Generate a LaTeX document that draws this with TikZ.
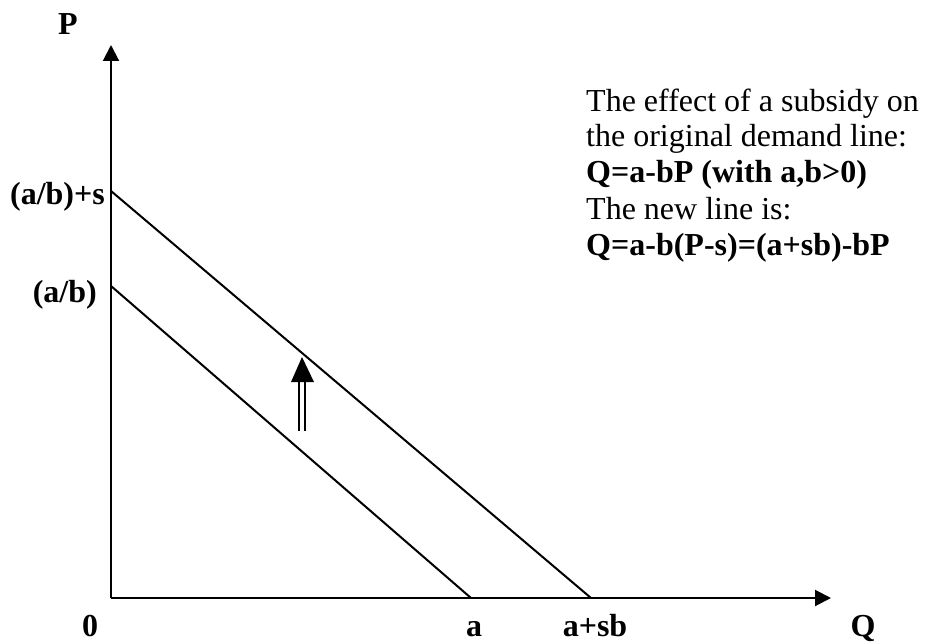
\documentclass[tikz,border=0pt]{standalone}
\usepackage{fontspec}
\setmainfont{Liberation Serif}
\usetikzlibrary{arrows.meta}
\begin{document}
\begin{tikzpicture}[x=1pt,y=-1pt,
  axis/.style={line width=2pt,-{Triangle[width=16pt,length=16pt]}},
  demand/.style={line width=2pt},
  lbl/.style={font=\fontsize{32}{37}\selectfont\bfseries,inner sep=0pt},
  txt/.style={font=\fontsize{32}{37}\selectfont,inner sep=0pt,anchor=base west}]
\useasboundingbox (0,0) rectangle (925,644);
\coordinate (O) at (111,598);
\coordinate (Ptip) at (111,45);
\coordinate (Qtip) at (831,598);
\draw[axis] (O) -- (Ptip);
\draw[axis] (O) -- (Qtip);
% demand lines
\coordinate (L1) at (111,286);
\coordinate (L2) at (471,598);
\coordinate (U1) at (111,191);
\coordinate (U2) at (591,598);
\draw[demand] (L1) -- (L2);
\draw[demand] (U1) -- (U2);
% double arrow
\coordinate (S1) at (299,431);
\coordinate (S1t) at (299,380);
\coordinate (S2) at (305,431);
\coordinate (S2t) at (305,380);
\draw[line width=2pt] (S1) -- (S1t);
\draw[line width=2pt] (S2) -- (S2t);
\fill (291,382) -- (302,357) -- (314,382) -- cycle;
% labels
\node[lbl,anchor=base] (P) at (68,35) {P};
\node[lbl,anchor=base] (zero) at (90,636) {0};
\node[lbl,anchor=base] (a) at (474,636) {a};
\node[lbl,anchor=base] (asb) at (595,636) {a+sb};
\node[lbl,anchor=base] (Q) at (863,636) {Q};
\node[lbl,anchor=base east] (ab1) at (105,205) {(a/b)+s};
\node[lbl,anchor=base east] (ab) at (97,302) {(a/b)};
% text block
\node[txt] (t1) at (586,112) {The effect of a subsidy on};
\node[txt] (t2) at (586,147) {the original demand line:};
\node[txt,font=\fontsize{32}{37}\selectfont\bfseries] (t3) at (586,183) {Q=a-bP (with a,b>0)};
\node[txt] (t4) at (586,219) {The new line is:};
\node[txt,font=\fontsize{32}{37}\selectfont\bfseries] (t5) at (586,255) {Q=a-b(P-s)=(a+sb)-bP};
\end{tikzpicture}
\end{document}
